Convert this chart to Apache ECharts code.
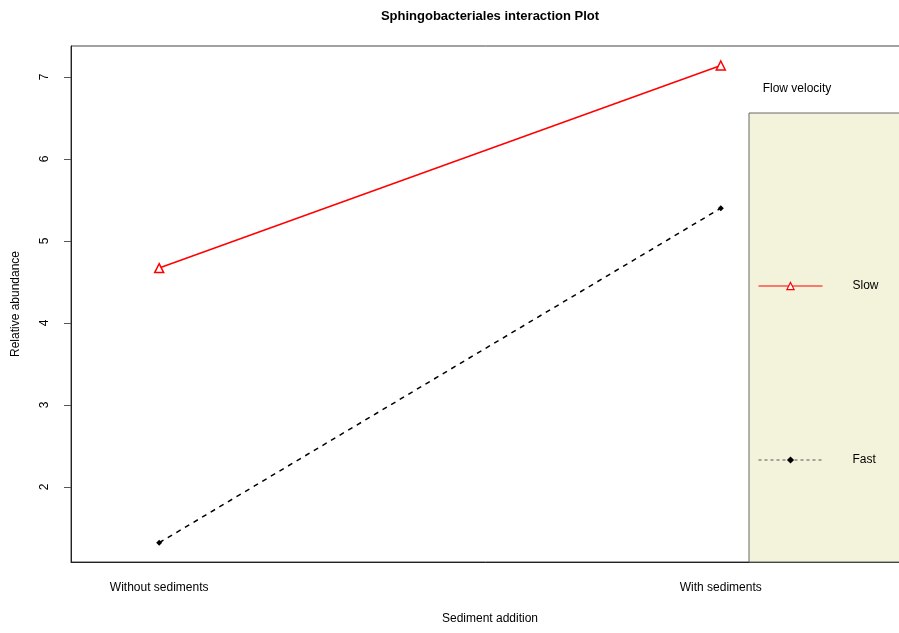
<!DOCTYPE html>
<html>
<head>
<meta charset="utf-8">
<script src="https://cdn.jsdelivr.net/npm/echarts@6/dist/echarts.min.js"></script>
<style>
  html, body { margin: 0; padding: 0; background: #fff; }
  #chart { width: 899px; height: 633px; }
</style>
</head>
<body>
<div id="chart"></div>
<script>
// Factor levels on the x axis
const levels = ['Without sediments', 'With sediments'];
// Mean relative abundance per flow velocity
const slowValues = [4.67, 7.14];
const fastValues = [1.32, 5.40];
// Y axis tick labels
const yTicks = [2, 3, 4, 5, 6, 7];
const traceNames = ['Slow', 'Fast'];

const FONT = 'Liberation Sans, Arial, Helvetica, sans-serif';
const chart = echarts.init(document.getElementById('chart'), null, { renderer: 'canvas' });

const toPoints = vals => vals.map((v, i) => [i + 1, v]);

chart.setOption({
  animation: false,
  backgroundColor: '#ffffff',
  textStyle: { fontFamily: FONT },
  grid: {
    left: 71, top: 46, bottom: 71, right: -6,
    show: true, borderColor: '#444', borderWidth: 1,
    containLabel: false, outerBoundsMode: 'none'
  },
  xAxis: {
    type: 'value',
    min: 0.843, max: 2.328,
    splitLine: { show: false },
    axisLine: { show: true, lineStyle: { color: '#222', width: 1 } },
    axisTick: { show: false },
    axisLabel: {
      customValues: [1, 2],
      formatter: v => levels[Math.round(v) - 1] || '',
      color: '#000', fontSize: 12, fontFamily: FONT, margin: 20
    }
  },
  yAxis: {
    type: 'value',
    min: 1.0854, max: 7.378,
    splitLine: { show: false },
    axisLine: { show: true, lineStyle: { color: '#222', width: 1 } },
    axisTick: { show: true, customValues: yTicks, length: 7, lineStyle: { color: '#555' } },
    axisLabel: {
      customValues: yTicks,
      rotate: 90,
      color: '#000', fontSize: 12, fontFamily: FONT, margin: 20
    }
  },
  legend: {
    orient: 'vertical',
    left: 753, top: 275,
    itemWidth: 64, itemHeight: 9,
    itemGap: 162,
    data: [
      { name: traceNames[0], lineStyle: { width: 1, color: '#ff0000' },
        itemStyle: { color: '#ffffff', borderColor: '#ff0000', borderWidth: 1.2 } },
      { name: traceNames[1], lineStyle: { width: 1, color: '#555', type: [3, 3] },
        itemStyle: { color: '#000000' } }
    ],
    textStyle: { color: '#000', fontSize: 12, fontFamily: FONT, padding: [0, 0, 0, 25] },
    z: 10
  },
  graphic: [
    {
      type: 'rect', z: 1, silent: true,
      shape: { x: 749, y: 113, width: 160, height: 449 },
      style: { fill: '#f3f2da', stroke: '#666', lineWidth: 1 }
    },
    {
      type: 'text', z: 5,
      style: { text: 'Sphingobacteriales interaction Plot', x: 490, y: 16, textAlign: 'center', textVerticalAlign: 'middle',
               font: 'bold 13px ' + FONT, fill: '#000' }
    },
    {
      type: 'text', z: 5,
      style: { text: 'Sediment addition', x: 490, y: 619, textAlign: 'center', textVerticalAlign: 'middle',
               font: '12px ' + FONT, fill: '#000' }
    },
    {
      type: 'text', z: 5, x: 16, y: 304, rotation: Math.PI / 2,
      style: { text: 'Relative abundance', x: 0, y: 0, textAlign: 'center', textVerticalAlign: 'middle',
               font: '12px ' + FONT, fill: '#000' }
    },
    {
      type: 'text', z: 5,
      style: { text: 'Flow velocity', x: 797, y: 89, textAlign: 'center', textVerticalAlign: 'middle',
               font: '12px ' + FONT, fill: '#000' }
    }
  ],
  series: [
    {
      name: traceNames[0],
      type: 'line',
      data: toPoints(slowValues),
      symbol: 'triangle', symbolSize: 9,
      lineStyle: { color: '#ff0000', width: 1.5, type: 'solid' },
      itemStyle: { color: '#ffffff', borderColor: '#ff0000', borderWidth: 1.5 },
      z: 3
    },
    {
      name: traceNames[1],
      type: 'line',
      data: toPoints(fastValues),
      symbol: 'diamond', symbolSize: 6,
      lineStyle: { color: '#000000', width: 1.5, type: [5, 5] },
      itemStyle: { color: '#000000', borderColor: '#000000', borderWidth: 0 },
      z: 3
    }
  ]
});
</script>
</body>
</html>
